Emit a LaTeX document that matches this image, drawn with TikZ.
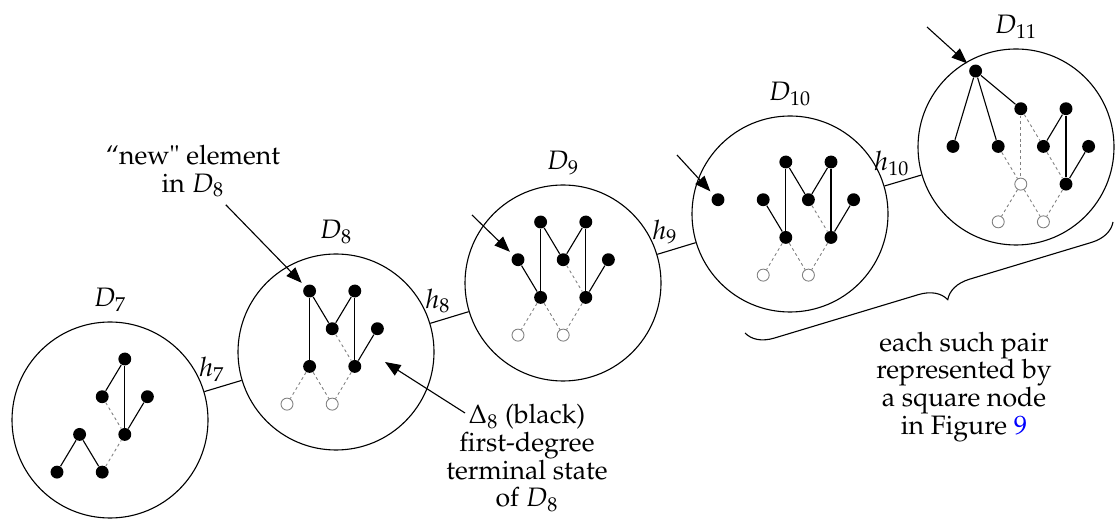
\documentclass[tikz,border=0pt]{standalone}
\usepackage[T1]{fontenc}
\usepackage{mathpazo}
\usetikzlibrary{arrows.meta,positioning,decorations.pathreplacing}

\begin{document}
\begin{tikzpicture}[
    x=0.45pt, y=-0.45pt,
    font=\fontsize{12pt}{12.5pt}\selectfont,
    set/.style={circle,draw,line width=0.5pt,inner sep=0pt,minimum size=88.2pt},
    dot/.style={circle,fill=black,inner sep=0pt,minimum size=5.8pt},
    hole/.style={circle,draw=gray,fill=white,inner sep=0pt,minimum size=5.4pt,line width=0.4pt},
    link/.style={line width=0.5pt},
    lost/.style={gray,line width=0.4pt,dash pattern=on 1.3pt off 1.3pt},
    arrow/.style={-{Triangle[length=7pt,width=5.5pt]},line width=0.5pt,shorten >=2pt},
    cell/.style={x=10.17pt,y=-16.97pt}
]
\useasboundingbox (0,0) rectangle (1115,520);

% the sets D_7 ... D_11
\node[set] (D7) at (110,420) {};
\node[set] (D8) at (336,352) {};
\node[set] (D9) at (563,283) {};
\node[set] (D10) at (790,214) {};
\node[set] (D11) at (1016,147) {};

\node[above=1pt of D7] (lab7) {$D_7$};
\node[above=1pt of D8] (lab8) {$D_8$};
\node[above=1pt of D9] (lab9) {$D_9$};
\node[above=1pt of D10] (lab10) {$D_{10}$};
\node[above=1pt of D11] (lab11) {$D_{11}$};

% maps between them
\draw[link] (D7) -- (D8) node[pos=0.2,above] (h7) {$h_7$};
\draw[link] (D8) -- (D9) node[pos=0.2,above] (h8) {$h_8$};
\draw[link] (D9) -- (D10) node[pos=0.2,above] (h9) {$h_9$};
\draw[link] (D10) -- (D11) node[pos=0.2,above] (h10) {$h_{10}$};

% D7
\begin{scope}[shift={(57,359)},cell]
\node[dot] (n7a) at (3,0) {};
\node[dot] (n7b) at (2,1) {};
\node[dot] (n7c) at (4,1) {};
\node[dot] (n7d) at (1,2) {};
\node[dot] (n7e) at (3,2) {};
\node[dot] (n7f) at (0,3) {};
\node[dot] (n7g) at (2,3) {};
\end{scope}
\draw[link] (n7a) -- (n7b);
\draw[link] (n7a) -- (n7e);
\draw[link] (n7c) -- (n7e);
\draw[link] (n7d) -- (n7f);
\draw[link] (n7d) -- (n7g);
\draw[lost] (n7b) -- (n7e);
\draw[lost] (n7g) -- (n7e);

% D8
\begin{scope}[shift={(287,291)},cell]
\node[dot] (n8a) at (1,0) {};
\node[dot] (n8b) at (3,0) {};
\node[dot] (n8c) at (2,1) {};
\node[dot] (n8d) at (4,1) {};
\node[dot] (n8e) at (1,2) {};
\node[dot] (n8f) at (3,2) {};
\node[hole] (n8g) at (0,3) {};
\node[hole] (n8h) at (2,3) {};
\end{scope}
\draw[link] (n8a) -- (n8e);
\draw[link] (n8a) -- (n8c);
\draw[link] (n8c) -- (n8b);
\draw[link] (n8b) -- (n8f);
\draw[link] (n8d) -- (n8f);
\draw[lost] (n8c) -- (n8f);
\draw[lost] (n8e) -- (n8g);
\draw[lost] (n8e) -- (n8h);
\draw[lost] (n8f) -- (n8h);

% D9
\begin{scope}[shift={(518,222)},cell]
\node[dot] (n9a) at (1,0) {};
\node[dot] (n9b) at (3,0) {};
\node[dot] (n9c) at (0,1) {};
\node[dot] (n9d) at (2,1) {};
\node[dot] (n9e) at (4,1) {};
\node[dot] (n9f) at (1,2) {};
\node[dot] (n9g) at (3,2) {};
\node[hole] (n9h) at (0,3) {};
\node[hole] (n9i) at (2,3) {};
\end{scope}
\draw[link] (n9a) -- (n9f);
\draw[link] (n9a) -- (n9d);
\draw[link] (n9d) -- (n9b);
\draw[link] (n9b) -- (n9g);
\draw[link] (n9e) -- (n9g);
\draw[link] (n9c) -- (n9f);
\draw[lost] (n9d) -- (n9g);
\draw[lost] (n9f) -- (n9h);
\draw[lost] (n9f) -- (n9i);
\draw[lost] (n9g) -- (n9i);

% D10
\begin{scope}[shift={(718,162)},cell]
\node[dot] (n10z) at (0,1) {};
\node[dot] (n10a) at (3,0) {};
\node[dot] (n10b) at (5,0) {};
\node[dot] (n10c) at (2,1) {};
\node[dot] (n10d) at (4,1) {};
\node[dot] (n10e) at (6,1) {};
\node[dot] (n10f) at (3,2) {};
\node[dot] (n10g) at (5,2) {};
\node[hole] (n10h) at (2,3) {};
\node[hole] (n10i) at (4,3) {};
\end{scope}
\draw[link] (n10a) -- (n10f);
\draw[link] (n10a) -- (n10d);
\draw[link] (n10d) -- (n10b);
\draw[link] (n10b) -- (n10g);
\draw[link] (n10e) -- (n10g);
\draw[link] (n10c) -- (n10f);
\draw[lost] (n10d) -- (n10g);
\draw[lost] (n10f) -- (n10h);
\draw[lost] (n10f) -- (n10i);
\draw[lost] (n10g) -- (n10i);

% D11
\begin{scope}[shift={(953,71)},cell]
\node[dot] (n11t) at (1,0) {};
\node[dot] (n11a) at (3,1) {};
\node[dot] (n11b) at (5,1) {};
\node[dot] (n11z) at (0,2) {};
\node[dot] (n11c) at (2,2) {};
\node[dot] (n11d) at (4,2) {};
\node[dot] (n11e) at (6,2) {};
\node[hole] (n11f) at (3,3) {};
\node[dot] (n11g) at (5,3) {};
\node[hole] (n11h) at (2,4) {};
\node[hole] (n11i) at (4,4) {};
\end{scope}
\draw[link] (n11t) -- (n11z);
\draw[link] (n11t) -- (n11c);
\draw[link] (n11t) -- (n11a);
\draw[link] (n11d) -- (n11b);
\draw[link] (n11b) -- (n11g);
\draw[link] (n11e) -- (n11g);
\draw[lost] (n11a) -- (n11f);
\draw[lost] (n11a) -- (n11d);
\draw[lost] (n11c) -- (n11f);
\draw[lost] (n11d) -- (n11g);
\draw[lost] (n11f) -- (n11h);
\draw[lost] (n11f) -- (n11i);
\draw[lost] (n11g) -- (n11i);

% annotations
\node[align=center] (newtxt) at (193,171) {``new" element\\in $D_8$};
\node[align=center] (deltatxt) at (527,458) {$\Delta_8$ (black)\\first-degree\\terminal state\\of $D_8$};
\node[align=center] (pairtxt) at (964,387) {each such pair\\represented by\\a square node\\in Figure \textcolor{blue}{9}};

\coordinate (from9) at (472,215);
\coordinate (from10) at (677,155);
\coordinate (from11) at (927,27);
\coordinate (dfoot) at (465,413);
\coordinate (dtip) at (385,362);

\draw[arrow] (newtxt) -- (n8a);
\draw[arrow] (from9) -- (n9c);
\draw[arrow] (from10) -- (n10z);
\draw[arrow] (from11) -- (n11t);
\draw[arrow,shorten >=0pt] (dfoot) -- (dtip);

% brace under D10, D11
\coordinate (brl) at (745,333);
\coordinate (brr) at (1113,222);
\draw[line width=0.5pt,decorate,decoration={brace,amplitude=12pt,aspect=0.47}] (brr) -- (brl);

\end{tikzpicture}
\end{document}
